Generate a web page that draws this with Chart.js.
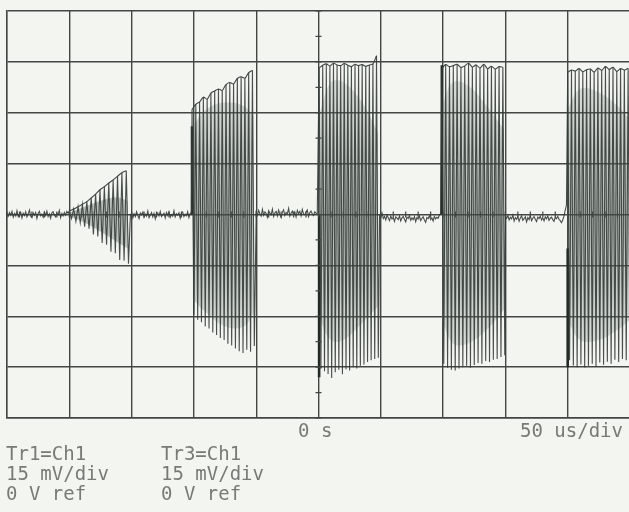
<!DOCTYPE html>
<html><head><meta charset="utf-8">
<script src="https://cdn.jsdelivr.net/npm/chart.js@4.4.0/dist/chart.umd.min.js"></script>
<style>
html,body{margin:0;padding:0;background:#f3f5f0;overflow:hidden;}
#wrap{position:relative;width:640px;height:512px;}
</style></head><body>
<div id="wrap"><canvas id="c"></canvas></div>
<script>
// ---------- data (time in microseconds, voltage in mV) ----------
const timeRangeUs = [-250, 250];
const voltRangeMv = [-60, 60];
const timePerDivUs = 50;
const voltPerDivMv = 15;

// baseline noise between bursts, one sample per microsecond
const gapStartUs = [-250, -151, -50, 49, 150];
const gap1Noise = [0.2,-0.5,0.6,-0.2,0.9,-0.8,0.3,-0.4,1.1,-0.6,0.1,0.7,-1.0,0.4,-0.3,0.8,-0.7,0.2,1.3,-0.5,-0.9,0.5,-0.2,0.6,-1.2,0.3,0.9,-0.4,0.1,-0.8,0.7,-0.3,1.0,-0.6,0.2,-1.1,0.5,0.8,-0.2,-0.7,0.4,-0.1,1.2,-0.9,0.3,-0.4,0.6,-0.2,0.9,0.4];
const gap2Noise = [-0.4,0.5,-1.0,0.2,-0.6,0.8,-0.3,-1.2,0.4,-0.1,0.7,-0.8,0.1,-0.5,1.0,-0.9,-0.2,0.6,-0.7,0.3,-1.3,0.2,0.5,-0.4,0.9,-0.6,-0.1,0.4,-1.0,0.6,-0.3,0.8,-0.8,0.0,-0.5,1.1,-0.7,0.2,-0.2,0.5,-1.1,0.3,0.7,-0.6,0.1,-0.4,0.8,-0.9,0.3,0.6];
const gap3Noise = [0.6,-0.3,1.2,0.2,-0.5,1.5,-0.2,0.8,0.3,-0.8,1.1,0.4,-0.1,1.6,-0.6,0.5,0.9,-0.4,1.3,0.1,-0.9,0.7,1.4,-0.3,0.6,0.2,1.8,-0.5,0.4,1.0,-0.2,0.8,-0.7,1.2,0.3,0.9,-0.4,1.5,0.1,-0.1,0.7,1.3,-0.6,0.5,1.0,0.2,-0.3,0.8,0.4,0.1];
const gap4Noise = [-0.3,-0.8,0.4,-1.2,-0.6,-1.6,-0.2,-1.0,-1.8,-0.5,-1.3,-0.9,-2.0,-0.7,-1.1,-1.5,-0.4,-1.9,-1.0,-0.6,-1.4,-2.2,-0.8,-1.2,-0.3,-1.7,-1.0,-1.5,-0.6,-2.1,-0.9,-1.3,-0.5,-1.8,-1.1,-0.7,-1.6,-2.3,-0.9,-1.2,-0.4,-1.5,-1.0,-1.9,-0.6,-1.3,-0.8,-1.1,-0.2,0.3];
const gap5Noise = [-0.5,-1.1,-0.3,-1.6,-0.8,-1.3,-0.2,-1.9,-0.9,-1.4,-0.6,-2.0,-1.0,-0.4,-1.7,-1.2,-0.7,-2.2,-0.9,-1.5,-0.3,-1.8,-1.1,-0.6,-1.4,-2.1,-0.8,-1.2,-0.5,-1.6,-1.0,-1.9,-0.7,-1.3,-0.4,-1.7,-1.1,-0.8,-1.5,-2.0,-0.9,-1.2,-0.6,-1.4,-1.8,-2.4,-1.6,-0.5,1.2,2.8];
const gapNoise = [gap1Noise, gap2Noise, gap3Noise, gap4Noise, gap5Noise];

// RF bursts: peak (top) and trough (bottom) of each cycle
const burstStartUs = [-200, -101.5, 0.5, 99, 200];
const burstEndUs   = [-152.5, -51.5, 48, 149.5, 250];
const burst1Tops    = [1.0,1.6,2.3,3.0,3.8,4.9,6.0,7.3,8.2,9.3,10.2,11.3,12.3,12.9];
const burst1Bottoms = [-1.2,-2.0,-2.4,-3.6,-4.2,-5.9,-6.5,-8.4,-8.9,-11.0,-11.4,-13.4,-13.6,-14.5];
const burst2Tops    = [31.0,32.5,33.2,34.6,34.0,35.8,36.4,37.0,36.6,38.3,38.9,38.5,40.1,40.6,40.2,41.8,42.5];
const burst2Bottoms = [-29.5,-31.0,-31.8,-33.0,-33.6,-34.8,-35.5,-36.4,-37.0,-38.1,-38.6,-39.5,-40.3,-40.8,-39.9,-40.5,-38.8];
const burst3Tops    = [43.2,44.0,44.4,43.8,44.6,44.1,43.9,44.5,44.0,43.6,44.3,43.9,44.2,43.7,44.1,44.4,46.8];
const burst3Bottoms = [-45.5,-46.2,-47.0,-48.2,-46.5,-45.8,-47.1,-45.6,-46.0,-45.0,-45.4,-44.6,-44.2,-43.5,-43.0,-42.6,-42.2];
const burst4Tops    = [43.0,44.2,43.6,43.9,44.3,43.4,43.8,44.6,43.5,44.1,43.2,44.3,43.0,43.7,42.9,43.6,43.4];
const burst4Bottoms = [-44.0,-45.2,-45.8,-46.0,-45.4,-45.0,-44.6,-45.2,-44.4,-43.8,-44.0,-43.2,-43.5,-42.8,-42.6,-42.0,-41.5];
const burst5Tops    = [41.9,42.6,42.3,43.0,42.1,42.7,42.9,42.0,43.2,42.5,43.6,42.8,43.4,42.2,43.0,42.6,43.1];
const burst5Bottoms = [-43.0,-44.5,-45.0,-44.2,-45.1,-44.6,-44.0,-44.8,-43.6,-44.3,-43.4,-44.0,-42.8,-43.5,-42.6,-43.0,-42.5];
const burstTops = [burst1Tops, burst2Tops, burst3Tops, burst4Tops, burst5Tops];
const burstBottoms = [burst1Bottoms, burst2Bottoms, burst3Bottoms, burst4Bottoms, burst5Bottoms];

// dense (unresolved) carrier region inside each burst
const bandTimesUs = [
  [-200,-190,-175,-162,-153],
  [-101,-90,-75,-60,-52],
  [1,10,20,35,48],
  [99,108,120,135,149],
  [200,210,225,240,250]
];
const bandUpper = [[0.5,2,4,5,4],[26,31,33,32,29],[30,39,39,33,24],[32,39,38,32,25],[31,37,36,32,28]];
const bandLower = [[-0.5,-2,-5,-8,-10],[-25,-29,-33,-33,-29],[-31,-37,-37,-32,-27],[-31,-38,-38,-34,-28],[-31,-37,-37,-34,-31]];

// turn-on transient at the start of each burst [low, high] mV
const transientSpanMv = [null,[0,26],[-48,0],[0,44],[-45,-10]];

// screen annotation text
const timeLabels = ['0 s', '50 us/div'];
const trace1Labels = ['Tr1=Ch1', '15 mV/div', '0 V ref'];
const trace3Labels = ['Tr3=Ch1', '15 mV/div', '0 V ref'];

// ---------- build library datasets from the arrays ----------
const tr1 = [];
const envelope = [];
for (let i = 0; i < 5; i++) {
  gapNoise[i].forEach((v, j) => tr1.push({x: gapStartUs[i] + j, y: v}));
  const tops = burstTops[i], bots = burstBottoms[i];
  const n = tops.length;
  const period = (burstEndUs[i] - burstStartUs[i]) / (n - 0.5);
  for (let k = 0; k < n; k++) {
    const tt = burstStartUs[i] + k * period;
    tr1.push({x: tt, y: tops[k]});
    tr1.push({x: tt + period / 2, y: bots[k]});
    envelope.push({x: tt, y: tops[k]});
  }
  envelope.push({x: burstEndUs[i], y: null});
}
const transients = [];
transientSpanMv.forEach((s, i) => {
  if (!s) return;
  transients.push({x: burstStartUs[i], y: s[0]}, {x: burstStartUs[i], y: s[1]}, {x: burstStartUs[i] + 0.1, y: null});
});

const traceColor = 'rgba(52,60,56,0.9)';
function bandFill(ctx) {
  const chart = ctx.chart;
  const a = chart.chartArea;
  if (!a) return 'rgba(120,128,122,0.35)';
  const ys = chart.scales.y;
  const g = chart.ctx.createLinearGradient(0, ys.getPixelForValue(45), 0, ys.getPixelForValue(-45));
  g.addColorStop(0, 'rgba(125,135,128,0.2)');
  g.addColorStop(0.5, 'rgba(100,110,104,0.42)');
  g.addColorStop(1, 'rgba(125,135,128,0.22)');
  return g;
}

const datasets = [
  {label: 'Tr1', data: tr1, borderColor: traceColor, borderWidth: 1.1, pointRadius: 0, tension: 0, fill: false},
  {label: 'Tr3 envelope', data: envelope, borderColor: 'rgba(55,62,58,0.95)', borderWidth: 1.1, pointRadius: 0, tension: 0.3, fill: false, spanGaps: false},
  {label: 'transient', data: transients, borderColor: 'rgba(35,42,38,1)', borderWidth: 2.6, pointRadius: 0, fill: false, spanGaps: false}
];
for (let i = 0; i < 5; i++) {
  datasets.push({label: 'bandU' + i, data: bandTimesUs[i].map((t, j) => ({x: t, y: bandUpper[i][j]})),
    borderWidth: 0, pointRadius: 0, tension: 0.4, fill: '+1', backgroundColor: bandFill});
  datasets.push({label: 'bandL' + i, data: bandTimesUs[i].map((t, j) => ({x: t, y: bandLower[i][j]})),
    borderWidth: 0, pointRadius: 0, tension: 0.4, fill: false});
}

const gridColor = '#434743';
const scopeDecor = {
  id: 'scopeDecor',
  afterDatasetsDraw(chart) {
    const c = chart.ctx, xs = chart.scales.x, ys = chart.scales.y;
    c.save();
    c.strokeStyle = gridColor; c.lineWidth = 1.2;
    const x0 = xs.getPixelForValue(0), y0 = ys.getPixelForValue(0);
    c.beginPath();
    for (let t = timeRangeUs[0]; t <= timeRangeUs[1]; t += timePerDivUs / 5) {
      const px = xs.getPixelForValue(t);
      c.moveTo(px, y0 - 3); c.lineTo(px, y0 + 3);
    }
    for (let v = voltRangeMv[0]; v <= voltRangeMv[1]; v += voltPerDivMv / 2) {
      const py = ys.getPixelForValue(v);
      c.moveTo(x0 - 3, py); c.lineTo(x0 + 3, py);
    }
    c.stroke();
    c.fillStyle = '#767b76';
    c.font = '19px "DejaVu Sans Mono", "Liberation Mono", monospace';
    c.textBaseline = 'middle';
    c.textAlign = 'left';
    c.fillText(timeLabels[0], 298, 432);
    c.fillText(timeLabels[1], 520, 432);
    trace1Labels.forEach((s, i) => c.fillText(s, 6, 455 + i * 20));
    trace3Labels.forEach((s, i) => c.fillText(s, 161, 455 + i * 20));
    c.restore();
  }
};

new Chart(document.getElementById('c'), {
  type: 'line',
  data: {datasets},
  options: {
    responsive: true, maintainAspectRatio: false, animation: false,
    layout: {padding: {left: 7, top: 11, right: 10, bottom: 94}},
    plugins: {legend: {display: false}, tooltip: {enabled: false}},
    scales: {
      x: {type: 'linear', min: timeRangeUs[0], max: timeRangeUs[1],
          ticks: {display: false, stepSize: timePerDivUs},
          grid: {color: gridColor, lineWidth: 1.4, drawTicks: false},
          border: {color: gridColor, width: 1.4}},
      y: {type: 'linear', min: voltRangeMv[0], max: voltRangeMv[1],
          ticks: {display: false, stepSize: voltPerDivMv},
          grid: {color: gridColor, lineWidth: 1.4, drawTicks: false},
          border: {color: gridColor, width: 1.4}}
    }
  },
  plugins: [scopeDecor]
});
</script></body></html>
